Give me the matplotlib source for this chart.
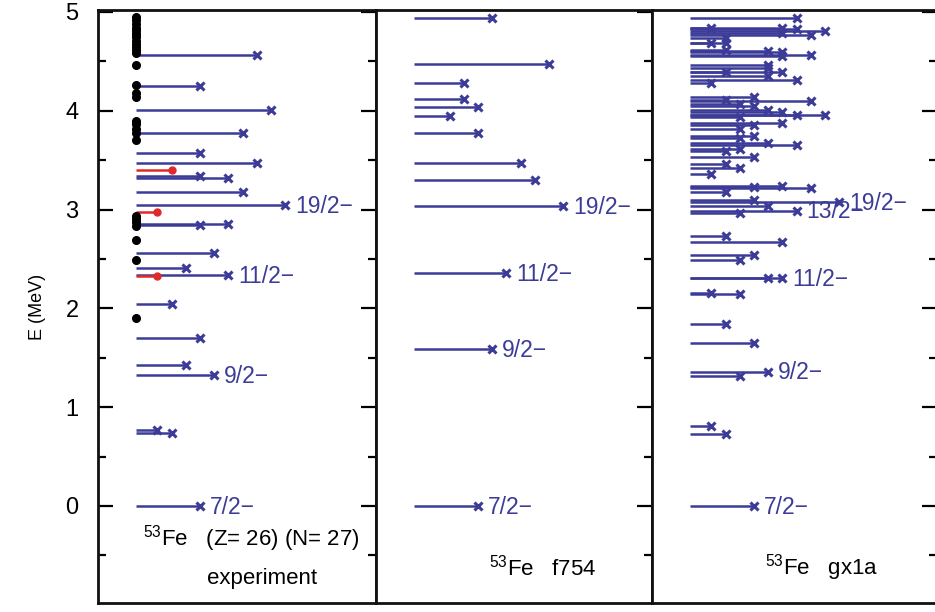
import numpy as np
import matplotlib
matplotlib.use("Agg")
import matplotlib.pyplot as plt
from matplotlib.ticker import MultipleLocator

plt.rcParams['font.family'] = ['Liberation Sans', 'DejaVu Sans']
plt.rcParams['mathtext.fontset'] = 'custom'
plt.rcParams['mathtext.rm'] = 'Liberation Sans'

BLUE = '#3c3c98'
RED = '#e02a2a'

# 53Fe level energies (MeV) and 2J, negative parity
exp_E = [0.0, 0.742, 0.769, 1.329, 1.424, 1.697, 2.045, 2.338, 2.412, 2.558,
         2.845, 2.852, 3.047, 3.181, 3.32, 3.34, 3.469, 3.570, 3.778, 4.008,
         4.254, 4.565]
exp_2J = [7, 3, 1, 9, 5, 7, 3, 11, 5, 9,
          7, 11, 19, 13, 11, 7, 15, 7, 13, 17,
          7, 15]
# positive parity levels
exp_pos_E = [2.33, 2.976, 3.40]
exp_pos_2J = [1, 1, 3]
# levels without spin assignment
exp_unk_E = [1.90, 2.49, 2.69, 2.83, 2.87, 2.90, 2.93, 3.70, 3.78, 3.82,
             3.87, 3.90, 4.14, 4.18, 4.26, 4.46, 4.58, 4.62, 4.65, 4.68,
             4.71, 4.75, 4.78, 4.81, 4.84, 4.88, 4.92, 4.95]

f754_E = [0.0, 1.59, 2.355, 3.04, 3.30, 3.469, 3.772, 3.947, 4.035, 4.119,
          4.285, 4.470, 4.936]
f754_2J = [7, 9, 11, 19, 15, 13, 7, 3, 7, 5,
           5, 17, 9]

gx1a_E = [0.0, 0.726, 0.81, 1.316, 1.36, 1.653, 1.842, 2.146, 2.153, 2.31,
          2.305, 2.49, 2.54, 2.675, 2.73, 2.97, 2.99, 3.04, 3.08, 3.10,
          3.18, 3.215, 3.23, 3.24, 3.36, 3.42, 3.46, 3.535, 3.59, 3.61,
          3.65, 3.67, 3.72, 3.74, 3.82, 3.856, 3.88, 3.935, 3.957, 3.96,
          3.99, 4.01, 4.05, 4.07, 4.10, 4.11, 4.143, 4.278, 4.31, 4.35,
          4.39, 4.396, 4.43, 4.465, 4.55, 4.565, 4.59, 4.60, 4.62, 4.69,
          4.69, 4.74, 4.767, 4.79, 4.81, 4.825, 4.835, 4.835, 4.936]
gx1a_2J = [7, 3, 1, 5, 9, 7, 3, 5, 1, 9,
           11, 5, 7, 11, 3, 5, 13, 9, 19, 7,
           3, 15, 7, 11, 1, 5, 3, 7, 3, 5,
           13, 9, 5, 7, 5, 7, 11, 5, 13, 17,
           11, 9, 7, 5, 15, 3, 7, 1, 13, 9,
           11, 3, 9, 9, 11, 15, 11, 9, 3, 1,
           3, 3, 15, 11, 17, 13, 1, 11, 13]

# spins whose lowest level gets a label
exp_labels = [7, 9, 11, 19]
f754_labels = [7, 9, 11, 19]
gx1a_labels = [7, 9, 11, 13, 19]

W, H = 935, 612
fig = plt.figure(figsize=(W / 100, H / 100), dpi=100)

unit = 14.2      # pixels per unit of (J+1)
start = 38.0     # pixels from the left frame to the level start
ylo, yhi = -0.982, 5.02


def make_panel(left_px, width_px, left_ticks):
    ax = fig.add_axes([left_px / W, 9 / H, width_px / W, 593 / H])
    ax.set_xlim(-start / unit, (width_px - start) / unit)
    ax.set_ylim(ylo, yhi)
    ax.set_xticks([])
    ax.yaxis.set_major_locator(MultipleLocator(1))
    ax.yaxis.set_minor_locator(MultipleLocator(0.5))
    ax.tick_params(axis='y', which='both', direction='in', left=left_ticks,
                   right=True, labelleft=left_ticks, width=1.6, labelsize=17,
                   pad=14)
    ax.tick_params(axis='y', which='major', length=11)
    ax.tick_params(axis='y', which='minor', length=6)
    for s in ax.spines.values():
        s.set_linewidth(2.0)
        s.set_color('#111111')
    return ax


def draw_levels(ax, E, twoJ, labels):
    E = np.asarray(E)
    twoJ = np.asarray(twoJ)
    xend = twoJ / 2 + 1
    ax.hlines(E, 0, xend, color=BLUE, lw=1.8, zorder=2)
    ax.plot(xend, E, ls='none', marker='x', ms=6, mew=2.2, color=BLUE, zorder=3)
    for j in labels:
        sel = np.where(twoJ == j)[0]
        i = sel[np.argmin(E[sel])]
        ax.annotate(f'{j}/2\u2212', (xend[i], E[i]), xytext=(7, -1),
                    textcoords='offset points', va='center', ha='left',
                    fontsize=16.5, color=BLUE, zorder=4)


ax1 = make_panel(98, 278, True)
ax2 = make_panel(376, 276, False)
ax3 = make_panel(652, 285, False)

draw_levels(ax1, exp_E, exp_2J, exp_labels)
pos_end = np.asarray(exp_pos_2J) / 2 + 1
ax1.hlines(exp_pos_E, 0, pos_end, color=RED, lw=1.8, zorder=2)
ax1.plot(pos_end, exp_pos_E, ls='none', marker='o', ms=5, color=RED, zorder=3)
ax1.plot(np.zeros(len(exp_unk_E)), exp_unk_E, ls='none', marker='o', ms=5.5,
         color='black', zorder=3)

draw_levels(ax2, f754_E, f754_2J, f754_labels)
draw_levels(ax3, gx1a_E, gx1a_2J, gx1a_labels)

ax1.set_ylabel('E (MeV)', fontsize=13, labelpad=14)

ax1.text(0.5, -0.33, r'$\mathregular{^{53}}$Fe   (Z= 26) (N= 27)', fontsize=16,
         va='center', ha='left')
ax1.text(8.9, -0.73, 'experiment', fontsize=16, va='center', ha='center')
ax2.text(5.3, -0.62, r'$\mathregular{^{53}}$Fe   f754', fontsize=16,
         va='center', ha='left')
ax3.text(5.3, -0.62, r'$\mathregular{^{53}}$Fe   gx1a', fontsize=16,
         va='center', ha='left')

fig.savefig('out.png', dpi=100)
